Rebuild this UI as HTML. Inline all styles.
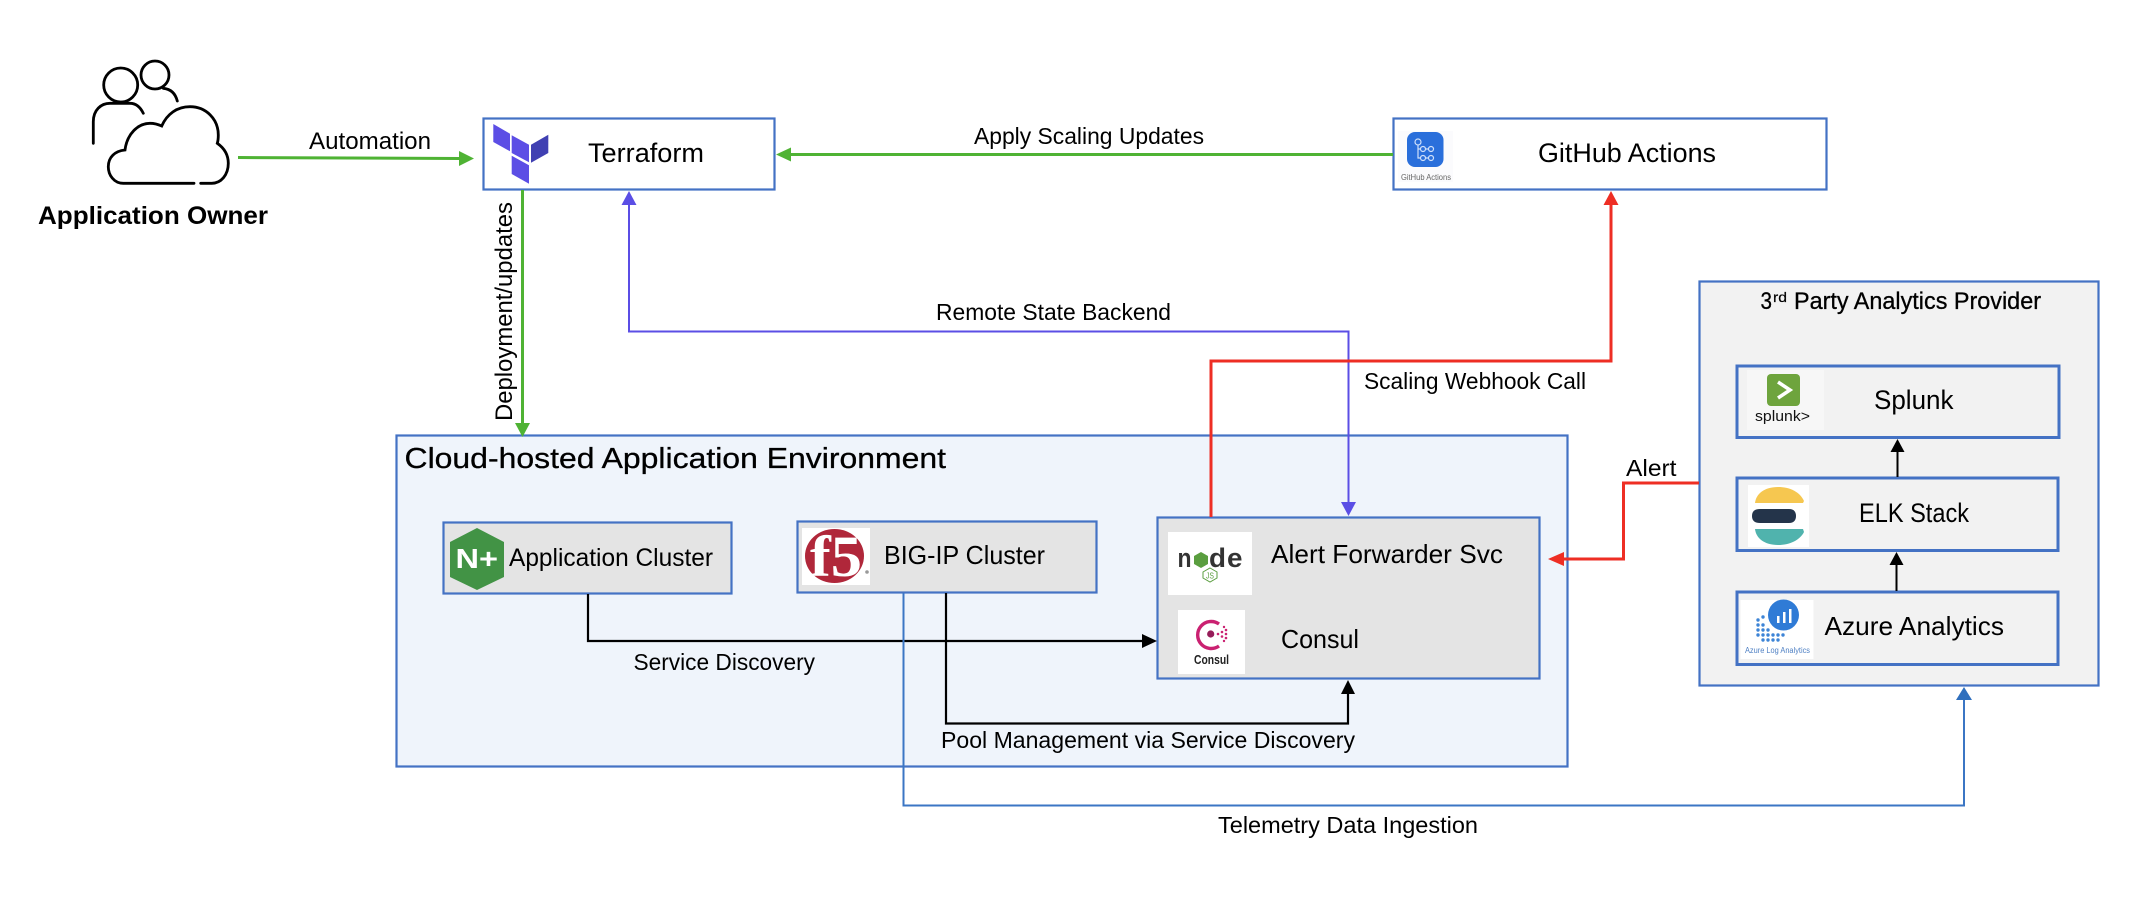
<!DOCTYPE html>
<html lang="en">
<head>
<meta charset="utf-8">
<title>Diagram</title>
<style>
html,body{margin:0;padding:0;background:#fff;}
svg{display:block;}
text{font-family:"Liberation Sans",sans-serif;fill:#000;}
</style>
</head>
<body>
<svg width="2154" height="910" viewBox="0 0 2154 910" xmlns="http://www.w3.org/2000/svg">
<rect width="2154" height="910" fill="#fff"/>

<!-- Containers -->
<rect x="396.5" y="435.5" width="1171" height="331" fill="#eff4fb" stroke="#4472c4" stroke-width="2.2"/>
<rect x="1699.5" y="281.5" width="399" height="404" fill="#f2f2f2" stroke="#4472c4" stroke-width="2.2"/>

<!-- Boxes -->
<rect x="483.5" y="118.5" width="291" height="71" fill="#fff" stroke="#4472c4" stroke-width="2.2"/>
<rect x="1393.5" y="118.5" width="433" height="71" fill="#fff" stroke="#4472c4" stroke-width="2.2"/>
<rect x="443.5" y="522.5" width="288" height="71" fill="#e4e4e4" stroke="#4472c4" stroke-width="2.2"/>
<rect x="797.5" y="521.5" width="299" height="71" fill="#e4e4e4" stroke="#4472c4" stroke-width="2.2"/>
<rect x="1157.5" y="517.5" width="382" height="161" fill="#e4e4e4" stroke="#4472c4" stroke-width="2.2"/>
<rect x="1737" y="366" width="322" height="71.5" fill="#f2f2f2" stroke="#4472c4" stroke-width="3"/>
<rect x="1737" y="478" width="321" height="72.5" fill="#f2f2f2" stroke="#4472c4" stroke-width="3"/>
<rect x="1737" y="592" width="321" height="72.5" fill="#f2f2f2" stroke="#4472c4" stroke-width="3"/>

<!-- Connectors -->
<g fill="none">
  <path d="M238 157.5 L460 158.5" stroke="#4fb334" stroke-width="3"/>
  <path d="M1393 154.5 H790" stroke="#4fb334" stroke-width="3"/>
  <path d="M522.5 190 V424" stroke="#4fb334" stroke-width="3"/>
  <path d="M629 204 V331.5 H1348.5 V503" stroke="#5b4ee5" stroke-width="2"/>
  <path d="M1211 517 V361 H1611 V204" stroke="#ee2e24" stroke-width="3"/>
  <path d="M1699 483 H1623.5 V559 H1563" stroke="#ee2e24" stroke-width="3"/>
  <path d="M588 594 V641 H1143" stroke="#000" stroke-width="2.2"/>
  <path d="M946 593 V723.5 H1348 V693" stroke="#000" stroke-width="2.2"/>
  <path d="M903.5 593 V805.5 H1964 V699" stroke="#3b76c4" stroke-width="2"/>
  <path d="M1897.5 477 V451" stroke="#000" stroke-width="2"/>
  <path d="M1896.5 591 V564" stroke="#000" stroke-width="2"/>
</g>
<!-- Arrowheads -->
<polygon points="474,158.5 459,151 459,166" fill="#4fb334"/>
<polygon points="776,154.5 791,147.5 791,161.5" fill="#4fb334"/>
<polygon points="522.5,437 515,423 530,423" fill="#4fb334"/>
<polygon points="629,191 621.5,205 636.5,205" fill="#5b4ee5"/>
<polygon points="1348.5,516 1341,502 1356,502" fill="#5b4ee5"/>
<polygon points="1611,191 1603.5,205 1618.5,205" fill="#ee2e24"/>
<polygon points="1548,559 1564,552 1564,566" fill="#ee2e24"/>
<polygon points="1157,641 1142,634 1142,648" fill="#000"/>
<polygon points="1348,680 1341,694 1355,694" fill="#000"/>
<polygon points="1964,687 1956,700 1972,700" fill="#2f6fbd"/>
<polygon points="1897.5,439 1890.5,452 1904.5,452" fill="#000"/>
<polygon points="1896.5,552 1889.5,565 1903.5,565" fill="#000"/>

<!-- Person/cloud icon -->
<g fill="none" stroke="#000" stroke-width="2.8" stroke-linecap="round">
  <circle cx="120.7" cy="85" r="17"/>
  <path d="M93.3 143.3 V121.7 C93.3 110 101 103.3 110 103.3 H130 C136 103.3 140.5 107.5 143.3 113.3"/>
  <circle cx="155" cy="75" r="14"/>
  <path d="M163.3 88.3 C171 89 175.5 94 177.3 101"/>
  <path d="M194 183.3 H123.3 C114 183.3 108.3 175 108.3 166.7 C108.3 157 115 151 125 150 C127 134 138 123.3 150 123.3 C155 123.3 158.5 124.5 161.7 126 C167 114 177 106.7 190 106.7 C206 106.7 218.3 119 218.3 135 C218.3 138 218 141 217.3 143.3 C224 148 228.3 155 228.3 163.3 C228.3 175 221 183.3 211.7 183.3 H200.7"/>
</g>

<!-- Terraform logo -->
<g fill="#5c4ee5">
  <polygon points="493.3,124 510,133.7 510,151.3 493.3,142"/>
  <polygon points="511.7,135.3 529,144.7 529,162.3 511.7,153"/>
  <polygon points="531,144.7 548.3,134.7 548.3,153 531,162.7" fill="#4040b2"/>
  <polygon points="511.7,155.7 529,165.3 529,183.7 511.7,174"/>
</g>

<!-- GitHub Actions logo -->
<rect x="1398" y="131" width="55" height="51" fill="#fbfbfd"/>
<rect x="1407" y="132" width="36.5" height="35" rx="8" fill="#2a6fdb"/>
<g fill="none" stroke="#cfe0fa" stroke-width="1.2">
  <circle cx="1418" cy="142" r="3"/><circle cx="1423" cy="149" r="2.5"/><circle cx="1431" cy="149" r="2.5"/>
  <circle cx="1423" cy="158" r="2.5"/><circle cx="1431" cy="158" r="2.5"/>
  <path d="M1418 145 V149 H1420.5 M1425.5 149 H1428.5 M1420.5 158 H1418 V149 M1425.5 158 H1428.5"/>
</g>
<text x="1401" y="180" font-size="8" textLength="50" lengthAdjust="spacingAndGlyphs" style="fill:#666">GitHub Actions</text>

<!-- NGINX logo -->
<polygon points="477,528 504,542 504,577 477,590 450,577 450,542" fill="#429345"/>
<text x="455.5" y="568" font-size="28" font-weight="bold" textLength="42.5" lengthAdjust="spacingAndGlyphs" style="fill:#fff">N+</text>

<!-- F5 logo -->
<rect x="802" y="528" width="68" height="57" fill="#fff"/>
<ellipse cx="834.5" cy="556" rx="29.5" ry="27" fill="#b0273a"/>
<text x="810" y="576" font-size="58" font-weight="bold" textLength="52" lengthAdjust="spacingAndGlyphs" style="font-family:'Liberation Serif',serif;fill:#fff">f5</text>
<circle cx="867" cy="572" r="1.8" fill="#999"/>

<!-- Node logo -->
<rect x="1168" y="532" width="84" height="63" fill="#fff"/>
<text x="1177.5" y="567" font-size="27" font-weight="bold" textLength="14" lengthAdjust="spacingAndGlyphs" style="fill:#333">n</text>
<polygon points="1201,552 1208,556 1208,564 1201,568 1194,564 1194,556" fill="#5a9e3f"/>
<text x="1209" y="567" font-size="27" font-weight="bold" textLength="17" lengthAdjust="spacingAndGlyphs" style="fill:#333">d</text>
<text x="1227" y="567" font-size="27" font-weight="bold" textLength="15.5" lengthAdjust="spacingAndGlyphs" style="fill:#333">e</text>
<polygon points="1210,568 1217,572 1217,578 1210,582 1203,578 1203,572" fill="none" stroke="#5a9e3f" stroke-width="1"/>
<text x="1206" y="578.5" font-size="8" textLength="8" lengthAdjust="spacingAndGlyphs" style="fill:#5a9e3f">JS</text>

<!-- Consul logo -->
<rect x="1178" y="610" width="67" height="64" fill="#fff"/>
<path d="M1219 624 A13.5 13.5 0 1 0 1219 646" fill="none" stroke="#ca2171" stroke-width="3.4"/>
<circle cx="1210.7" cy="634" r="3.6" fill="#961d59"/>
<g fill="#ca2171">
  <circle cx="1218" cy="634" r="1.3"/><circle cx="1222" cy="632" r="1.3"/><circle cx="1222" cy="636.5" r="1.3"/>
  <circle cx="1226" cy="630" r="1.3"/><circle cx="1226" cy="634" r="1.3"/><circle cx="1226" cy="638" r="1.3"/>
  <circle cx="1224" cy="627" r="1.2"/><circle cx="1224" cy="641" r="1.2"/>
</g>
<text x="1194" y="664" font-size="13" font-weight="bold" textLength="35" lengthAdjust="spacingAndGlyphs" style="fill:#222">Consul</text>

<!-- Splunk logo -->
<rect x="1747" y="370" width="77" height="60" fill="#f7f7f7"/>
<rect x="1767" y="374" width="33" height="32" rx="4" fill="#6ea43d"/>
<path d="M1778 382 L1790 390 L1778 398" fill="none" stroke="#fff" stroke-width="3.5"/>
<text x="1755" y="421" font-size="15" textLength="55" lengthAdjust="spacingAndGlyphs" style="fill:#111">splunk&gt;</text>

<!-- ELK logo -->
<rect x="1748" y="485" width="61" height="62" fill="#fff"/>
<path d="M1755 503 C1756 494 1764 487 1778 487 C1790 487 1800 492 1804 501 L1803 503 Z" fill="#f6c750"/>
<path d="M1752 516 C1752 511 1755 509 1760 509 H1789 C1794 509 1796 512 1796 516 C1796 520 1794 523 1789 523 H1760 C1755 523 1752 521 1752 516 Z" fill="#24344a"/>
<path d="M1755 529 H1803 L1804 532 C1800 540 1790 545 1778 545 C1764 545 1756 538 1755 529 Z" fill="#50b3ad"/>

<!-- Azure logo -->
<rect x="1740.5" y="600" width="73" height="59" fill="#fff"/>
<g fill="#3d84d6">
  <circle cx="1758" cy="620" r="1.7"/><circle cx="1763" cy="617" r="1.7"/>
  <circle cx="1758" cy="625" r="1.7"/><circle cx="1763" cy="625" r="1.7"/>
  <circle cx="1758" cy="630" r="1.7"/><circle cx="1763" cy="630" r="1.7"/><circle cx="1768" cy="630" r="1.7"/>
  <circle cx="1758" cy="635" r="1.7"/><circle cx="1763" cy="635" r="1.7"/><circle cx="1768" cy="635" r="1.7"/><circle cx="1773" cy="635" r="1.7"/><circle cx="1778" cy="635" r="1.7"/><circle cx="1783" cy="635" r="1.7"/>
  <circle cx="1763" cy="640" r="1.7"/><circle cx="1768" cy="640" r="1.7"/><circle cx="1773" cy="640" r="1.7"/><circle cx="1778" cy="640" r="1.7"/>
</g>
<circle cx="1783.5" cy="615" r="15.5" fill="#2f7bd6"/>
<rect x="1777" y="616" width="2.5" height="7" fill="#fff"/><rect x="1783" y="612" width="2.5" height="11" fill="#fff"/><rect x="1789" y="609" width="2.5" height="14" fill="#fff"/>
<text x="1745" y="653" font-size="8" textLength="65" lengthAdjust="spacingAndGlyphs" style="fill:#4f80c4">Azure Log Analytics</text>

<!-- Labels -->
<text x="38" y="224" font-size="25" font-weight="bold" textLength="230" lengthAdjust="spacingAndGlyphs">Application Owner</text>
<text x="309" y="149" font-size="24" textLength="122" lengthAdjust="spacingAndGlyphs">Automation</text>
<text x="588" y="162" font-size="27" textLength="116" lengthAdjust="spacingAndGlyphs">Terraform</text>
<text x="974" y="144" font-size="23" textLength="230" lengthAdjust="spacingAndGlyphs">Apply Scaling Updates</text>
<text x="1538" y="162" font-size="27" textLength="178" lengthAdjust="spacingAndGlyphs">GitHub Actions</text>
<text transform="translate(512 421) rotate(-90)" font-size="24" textLength="219" lengthAdjust="spacingAndGlyphs">Deployment/updates</text>
<text x="936" y="320" font-size="23" textLength="235" lengthAdjust="spacingAndGlyphs">Remote State Backend</text>
<text x="1364" y="389" font-size="23" textLength="222" lengthAdjust="spacingAndGlyphs">Scaling Webhook Call</text>
<text x="1626" y="476" font-size="23" textLength="50.5" lengthAdjust="spacingAndGlyphs">Alert</text>
<text x="404.5" y="468" font-size="29" stroke="#000" stroke-width="0.3" textLength="541.5" lengthAdjust="spacingAndGlyphs">Cloud-hosted Application Environment</text>
<text x="509" y="566" font-size="25" textLength="204" lengthAdjust="spacingAndGlyphs">Application Cluster</text>
<text x="884" y="564" font-size="26" textLength="161" lengthAdjust="spacingAndGlyphs">BIG-IP Cluster</text>
<text x="1271" y="563" font-size="26" textLength="232" lengthAdjust="spacingAndGlyphs">Alert Forwarder Svc</text>
<text x="1281" y="648" font-size="26" textLength="78" lengthAdjust="spacingAndGlyphs">Consul</text>
<text x="633.5" y="670" font-size="23" textLength="181.5" lengthAdjust="spacingAndGlyphs">Service Discovery</text>
<text x="941" y="748" font-size="23" textLength="414" lengthAdjust="spacingAndGlyphs">Pool Management via Service Discovery</text>
<text x="1218" y="833" font-size="23" textLength="260" lengthAdjust="spacingAndGlyphs">Telemetry Data Ingestion</text>
<text x="1760.5" y="309" font-size="24" stroke="#000" stroke-width="0.3" textLength="11.5" lengthAdjust="spacingAndGlyphs">3</text>
<text x="1773" y="302" font-size="14" stroke="#000" stroke-width="0.2" textLength="14" lengthAdjust="spacingAndGlyphs">rd</text>
<text x="1794" y="309" font-size="24" stroke="#000" stroke-width="0.3" textLength="247" lengthAdjust="spacingAndGlyphs">Party Analytics Provider</text>
<text x="1874" y="409" font-size="27" textLength="79.5" lengthAdjust="spacingAndGlyphs">Splunk</text>
<text x="1859" y="522" font-size="27" textLength="110" lengthAdjust="spacingAndGlyphs">ELK Stack</text>
<text x="1824.5" y="635" font-size="26" textLength="179.5" lengthAdjust="spacingAndGlyphs">Azure Analytics</text>
</svg>
</body>
</html>
